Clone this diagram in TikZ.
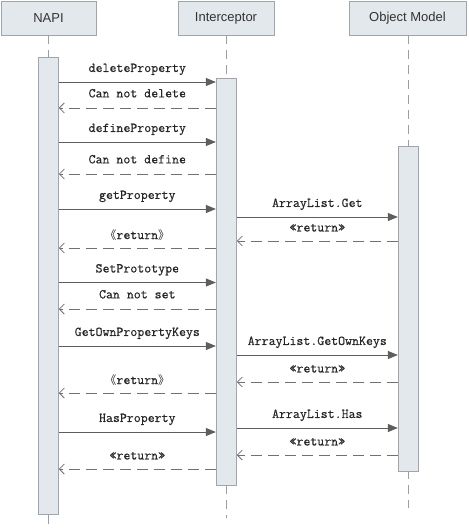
\documentclass[tikz,border=0pt]{standalone}
\usepackage{fontspec}
\setmainfont{Liberation Sans}
\newfontfamily\cjkfont{Noto Sans CJK SC}
\newfontfamily\msgfont{Latin Modern Mono}[FakeBold=0.5]
\usetikzlibrary{arrows.meta}
\definecolor{boxfill}{HTML}{E2E8EC}
\definecolor{boxdraw}{HTML}{A0A5AD}
\definecolor{msgline}{HTML}{5E5E5E}
\definecolor{retline}{HTML}{707070}
\definecolor{lifeline}{HTML}{9A9EA6}
\tikzset{
  head/.style={draw=boxdraw, fill=boxfill, line width=0.9pt, font=\fontsize{13}{15}\selectfont, text=black!80},
  bar/.style={draw=boxdraw, fill=boxfill, line width=0.9pt},
  life/.style={draw=lifeline, line width=0.8pt, dash pattern=on 9pt off 6pt},
  call/.style={draw=msgline, line width=0.9pt, -{Triangle[length=10pt,width=8pt,fill=msgline]}},
  ret/.style={draw=retline, line width=0.9pt, dash pattern=on 11pt off 6pt, -{Straight Barb[length=5pt,width=10pt,line width=0.8pt]}},
  lbl/.style={font=\msgfont\fontsize{13.5}{15}\selectfont, text=black!85, inner sep=0pt}
}
\newcommand{\cjkret}{{\cjkfont\fontsize{11.5}{13}\selectfont 《}return{\cjkfont\fontsize{11.5}{13}\selectfont 》}}
\begin{document}
\begin{tikzpicture}[x=1pt,y=-1pt]
\useasboundingbox (0,0) rectangle (468,529);
% headers
\node[head, minimum width=95pt, minimum height=34pt] (hnapi) at (48.5,18) {NAPI};
\node[head, minimum width=96pt, minimum height=34pt] (hint) at (226,18) {Interceptor};
\node[head, minimum width=117pt, minimum height=34pt] (hom) at (407.5,18) {Object Model};
% lifeline ends
\coordinate (enapi) at (48,524);
\coordinate (eint) at (226,518);
\coordinate (eom) at (408,508);
\draw[life] (hnapi.south -| enapi) -- (enapi);
\draw[life] (hint.south -| eint) -- (eint);
\draw[life] (hom.south -| eom) -- (eom);
% activation bars
\node[bar, minimum width=20pt, minimum height=457pt, inner sep=0pt] (bnapi) at (48.3,285.5) {};
\node[bar, minimum width=20pt, minimum height=407pt, inner sep=0pt] (bint) at (226.3,281.5) {};
\node[bar, minimum width=20pt, minimum height=325pt, inner sep=0pt] (bom) at (408.3,308.5) {};
% messages NAPI <-> Interceptor
\draw[call] (bnapi.east |- 0,82) -- node[lbl, midway, above=6.5pt] {deleteProperty} (bint.west |- 0,82);
\draw[ret] (bint.west |- 0,108) -- node[lbl, midway, above=10pt] {Can not delete} (bnapi.east |- 0,108);
\draw[call] (bnapi.east |- 0,142) -- node[lbl, midway, above=6.5pt] {defineProperty} (bint.west |- 0,142);
\draw[ret] (bint.west |- 0,174) -- node[lbl, midway, above=10pt] {Can not define} (bnapi.east |- 0,174);
\draw[call] (bnapi.east |- 0,209) -- node[lbl, midway, above=6.5pt] {getProperty} (bint.west |- 0,209);
\draw[ret] (bint.west |- 0,248) -- node[lbl, midway, above=7.5pt] {\cjkret} (bnapi.east |- 0,248);
\draw[call] (bnapi.east |- 0,282.5) -- node[lbl, midway, above=6.5pt] {SetPrototype} (bint.west |- 0,282.5);
\draw[ret] (bint.west |- 0,309) -- node[lbl, midway, above=10pt] {Can not set} (bnapi.east |- 0,309);
\draw[call] (bnapi.east |- 0,346) -- node[lbl, midway, above=6.5pt] {GetOwnPropertyKeys} (bint.west |- 0,346);
\draw[ret] (bint.west |- 0,393) -- node[lbl, midway, above=7.5pt] {\cjkret} (bnapi.east |- 0,393);
\draw[call] (bnapi.east |- 0,432) -- node[lbl, midway, above=6.5pt] {HasProperty} (bint.west |- 0,432);
\draw[ret] (bint.west |- 0,469) -- node[lbl, midway, above=9pt] {«return»} (bnapi.east |- 0,469);
% messages Interceptor <-> Object Model
\draw[call] (bint.east |- 0,217) -- node[lbl, midway, above=6.5pt] {ArrayList.Get} (bom.west |- 0,217);
\draw[ret] (bom.west |- 0,241) -- node[lbl, midway, above=9pt] {«return»} (bint.east |- 0,241);
\draw[call] (bint.east |- 0,355) -- node[lbl, midway, above=6.5pt] {ArrayList.GetOwnKeys} (bom.west |- 0,355);
\draw[ret] (bom.west |- 0,382) -- node[lbl, midway, above=9pt] {«return»} (bint.east |- 0,382);
\draw[call] (bint.east |- 0,428) -- node[lbl, midway, above=6.5pt] {ArrayList.Has} (bom.west |- 0,428);
\draw[ret] (bom.west |- 0,455) -- node[lbl, midway, above=9pt] {«return»} (bint.east |- 0,455);
\end{tikzpicture}
\end{document}
